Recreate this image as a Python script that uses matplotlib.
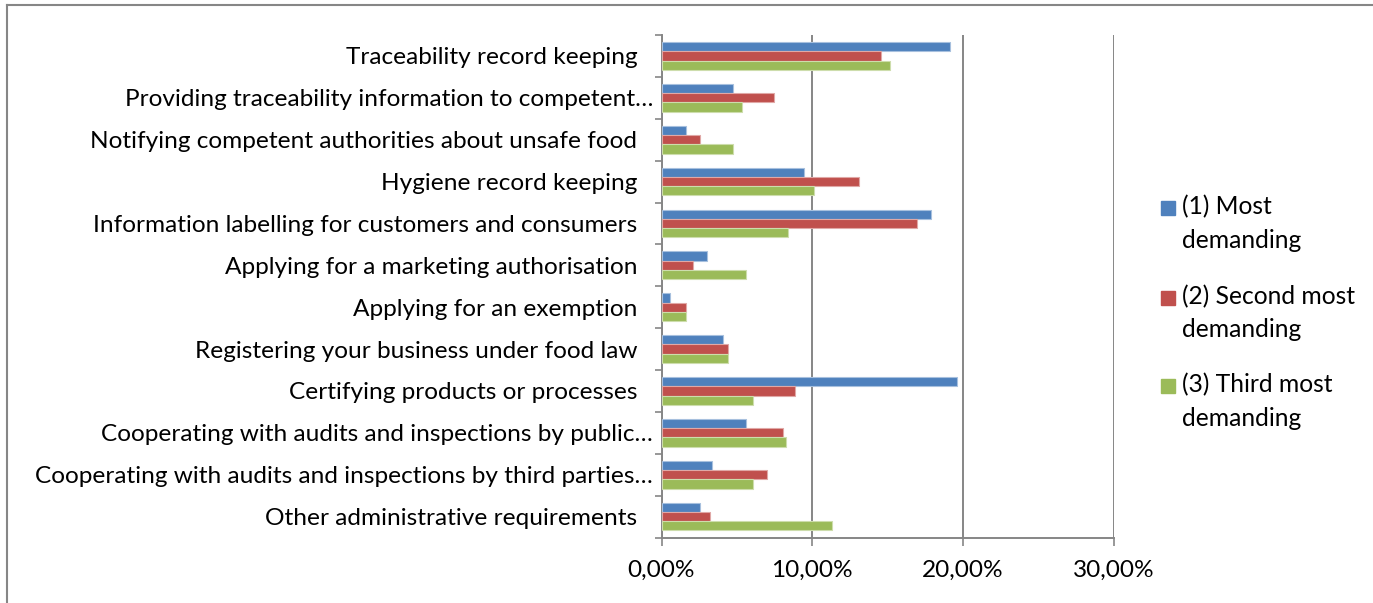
import matplotlib
matplotlib.use("Agg")
import matplotlib.pyplot as plt
from matplotlib.patches import Rectangle
from matplotlib.lines import Line2D
import numpy as np

categories = [
    "Traceability record keeping",
    "Providing traceability information to competent\u2026",
    "Notifying competent authorities about unsafe food",
    "Hygiene record keeping",
    "Information labelling for customers and consumers",
    "Applying for a marketing authorisation",
    "Applying for an exemption",
    "Registering your business under food law",
    "Certifying products or processes",
    "Cooperating with audits and inspections by public\u2026",
    "Cooperating with audits and inspections by third parties\u2026",
    "Other administrative requirements",
]
most_demanding = [19.13, 4.72, 1.65, 9.47, 17.92, 3.02, 0.56, 4.10, 19.60, 5.62, 3.35, 2.55]
second_most = [14.56, 7.48, 2.55, 13.14, 16.99, 2.11, 1.62, 4.39, 8.85, 8.08, 7.02, 3.20]
third_most = [15.15, 5.34, 4.72, 10.09, 8.39, 5.62, 1.62, 4.39, 6.09, 8.24, 6.09, 11.31]
series_names = [("(1) Most", "demanding"), ("(2) Second most", "demanding"), ("(3) Third most", "demanding")]
colors = ["#4F81BD", "#C0504D", "#9BBB59"]
edge_colors = ["#A7C0DE", "#E0A8A6", "#CDDDAC"]
x_ticks = [0, 10, 20, 30]

W, H = 1373, 603
DPI = 100
FONT = ["Lato", "DejaVu Sans"]
plt.rcParams["font.family"] = FONT
fig = plt.figure(figsize=(W / DPI, H / DPI), dpi=DPI)
fig.patch.set_facecolor("white")
renderer = fig.canvas.get_renderer()


def fitted_size(text, width_px, base=16):
    t = fig.text(0, 0, text, fontsize=base)
    w = t.get_window_extent(renderer).width
    t.remove()
    return base * width_px / w


label_size = fitted_size("Traceability record keeping", 293)
legend_size = fitted_size("(2) Second most", 174)

ax_left, ax_right = 661.5 / W, 1113.5 / W
ax_top, ax_bottom = 1 - 35 / H, 1 - 537.5 / H
ax = fig.add_axes([ax_left, ax_bottom, ax_right - ax_left, ax_top - ax_bottom])

grid_col = "#868686"
y = np.arange(len(categories))
h = 0.22
for vals, off, c, ec in zip([most_demanding, second_most, third_most], [-h, 0, h], colors, edge_colors):
    ax.barh(y + off, vals, height=h, color=c, edgecolor=ec, linewidth=0.8, zorder=3)

ax.set_xlim(0, 30)
ax.set_ylim(len(categories) - 0.5, -0.5)

ax.set_xticks(x_ticks)
ax.set_xticklabels([f"{v:.2f}%".replace(".", ",") for v in x_ticks])
ax.xaxis.grid(True, color=grid_col, linewidth=1.4, zorder=0)
ax.tick_params(axis="x", length=6, width=1.2, color=grid_col, labelsize=label_size, pad=10)

ax.set_yticks(y)
ax.set_yticklabels(categories)
ax.set_yticks(np.arange(-0.5, len(categories)), minor=True)
ax.tick_params(axis="y", which="major", length=0, labelsize=label_size, pad=17.5)
ax.tick_params(axis="y", which="minor", length=5, width=1.2, color=grid_col)

for s in ["top", "right"]:
    ax.spines[s].set_visible(False)
for s in ["left", "bottom"]:
    ax.spines[s].set_color(grid_col)
    ax.spines[s].set_linewidth(1.4)

# labels cut with an ellipsis sit closer to the axis
for tick, name in zip(ax.yaxis.get_major_ticks(), categories):
    if name.endswith("\u2026"):
        tick.set_pad(17.5 - 16 * 72 / DPI)

# legend
leg_rows = [207, 297, 385]
for (l1, l2), c, yy in zip(series_names, colors, leg_rows):
    fig.patches.append(Rectangle((1161 / W, 1 - (yy + 8) / H), 14 / W, 14 / H,
                                 transform=fig.transFigure, color=c, figure=fig))
    fig.text(1182 / W, 1 - yy / H, l1, fontsize=legend_size, va="center", ha="left")
    fig.text(1182 / W, 1 - (yy + 33) / H, l2, fontsize=legend_size, va="center", ha="left")

# chart frame (top and left edges)
fig.lines.append(Line2D([7 / W, 1.0], [1 - 5 / H, 1 - 5 / H], transform=fig.transFigure,
                        color=grid_col, linewidth=1.5))
fig.lines.append(Line2D([7 / W, 7 / W], [0, 1 - 5 / H], transform=fig.transFigure,
                        color=grid_col, linewidth=1.5))

fig.savefig("out.png", dpi=DPI)
